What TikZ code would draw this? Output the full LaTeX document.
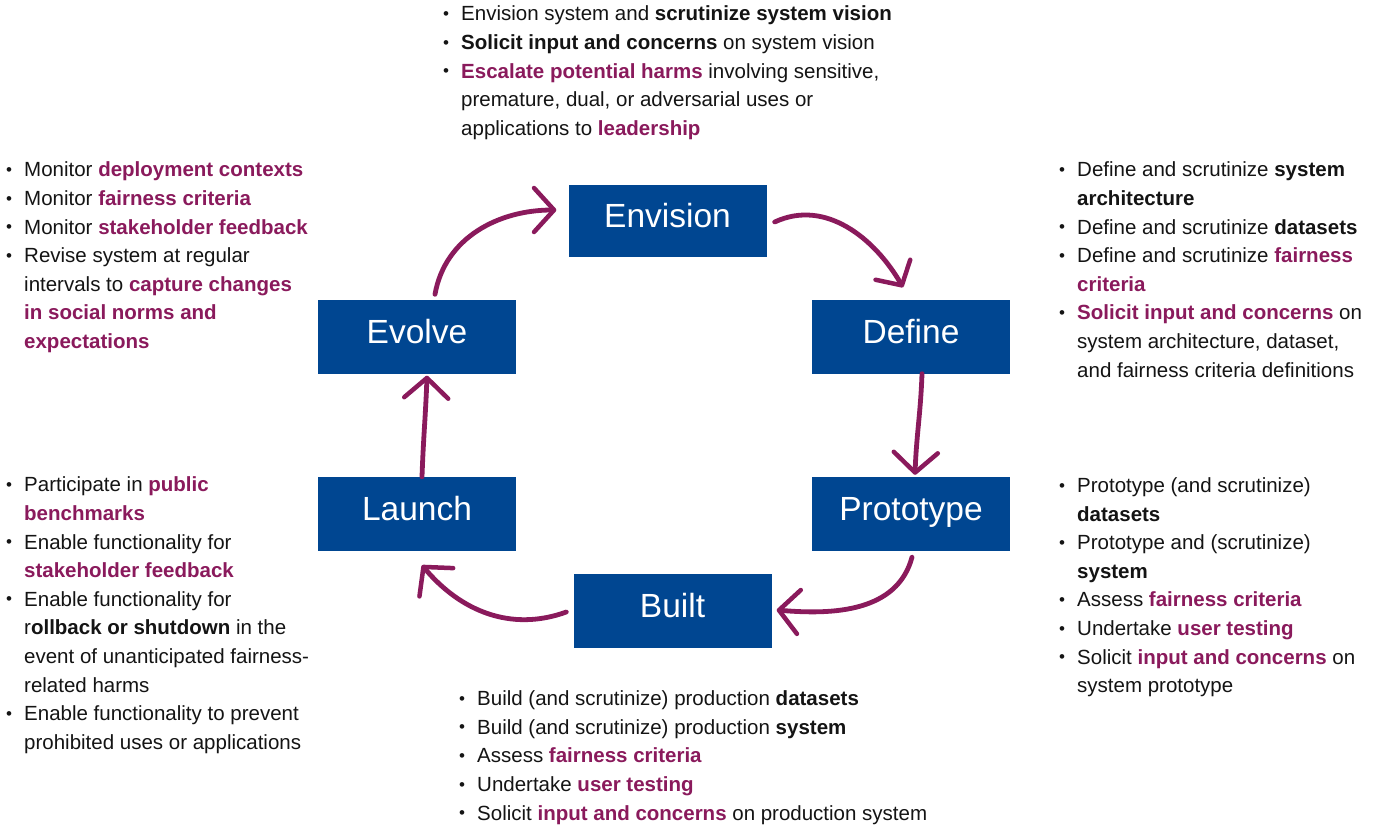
\documentclass[tikz,border=0pt]{standalone}
\usepackage{fontspec}
\setmainfont{Liberation Sans}
\usetikzlibrary{arrows.meta}
\definecolor{boxblue}{RGB}{0,70,145}
\definecolor{plum}{RGB}{138,26,92}
\definecolor{ink}{RGB}{20,20,20}
\newcommand\hlt[1]{\textbf{\textcolor{plum}{#1}}}
\newcommand\bl[1]{\textbf{#1}}
\newcommand\bitem{\makebox[18pt][l]{\hspace{0pt}\raisebox{1.5pt}{\fontsize{17}{17}\selectfont\textbullet}}}
\newcommand\cind{\hspace*{18pt}}
\newcommand\fst{\rule{0pt}{20pt}}
\begin{document}
\begin{tikzpicture}[x=1pt,y=-1pt,
  box/.style={fill=boxblue, text=white, minimum width=198pt, minimum height=74pt, inner sep=0pt,
    font=\fontsize{33.5}{40}\selectfont, text height=24pt, text depth=10.4pt},
  txt/.style={anchor=north west, align=left, inner sep=0pt, text=ink, font=\fontsize{20.5}{28.6}\selectfont},
  arr/.style={draw=plum, line width=4.8pt, line cap=round,
    -{Straight Barb[length=20pt,width=44pt,line width=4.5pt,round]}}]
\useasboundingbox[fill=white] (0,0) rectangle (1381,827);

% boxes
\node[box, minimum height=72pt] (env) at (667.5,221) {Envision};
\node[box] (evo) at (417,336.5) {Evolve};
\node[box] (def) at (911,336.5) {Define};
\node[box] (lau) at (417,514) {Launch};
\node[box] (pro) at (911,514) {Prototype};
\node[box] (blt) at (672.5,611) {Built};

% arrows
\draw[arr, -{Straight Barb[length=18pt,width=40pt,line width=4.5pt,round]}] ([xshift=8pt,yshift=-1pt]env.east) to[out=25,in=120] ([xshift=-8pt,yshift=12pt]def.north);
\draw[arr] ([xshift=11pt]def.south) to[out=-92,in=88] ([xshift=4pt,yshift=2pt]pro.north);
\draw[arr] ([xshift=1pt,yshift=-6pt]pro.south) to[out=-105,in=-5] ([xshift=5pt,yshift=1pt]blt.east);
\draw[arr] ([xshift=-7pt,yshift=-1pt]blt.west) to[out=200,in=-50] ([xshift=5pt,yshift=-14pt]lau.south);
\draw[arr] ([xshift=5pt]lau.north) to[out=88,in=-92] ([xshift=10pt,yshift=-2pt]evo.south);
\draw[arr] ([xshift=18pt,yshift=5pt]evo.north) to[out=80,in=180] ([xshift=-12pt,yshift=11pt]env.west);

% texts
\node[txt] (tTop) at (443,0.7) {\fst\bitem Envision system and \bl{scrutinize system vision}\\
\bitem\bl{Solicit input and concerns} on system vision\\
\bitem\hlt{Escalate potential harms} involving sensitive,\\
\cind premature, dual, or adversarial uses or\\
\cind applications to \hlt{leadership}};

\node[txt] (tEvo) at (6,156.7) {\fst\bitem Monitor \hlt{deployment contexts}\\
\bitem Monitor \hlt{fairness criteria}\\
\bitem Monitor \hlt{stakeholder feedback}\\
\bitem Revise system at regular\\
\cind intervals to \hlt{capture changes}\\
\cind\hlt{in social norms and}\\
\cind\hlt{expectations}};

\node[txt] (tDef) at (1059,156.7) {\fst\bitem Define and scrutinize \bl{system}\\
\cind\bl{architecture}\\
\bitem Define and scrutinize \bl{datasets}\\
\bitem Define and scrutinize \hlt{fairness}\\
\cind\hlt{criteria}\\
\bitem\hlt{Solicit input and concerns} on\\
\cind system architecture, dataset,\\
\cind and fairness criteria definitions};

\node[txt] (tLau) at (6,471.7) {\fst\bitem Participate in \hlt{public}\\
\cind\hlt{benchmarks}\\
\bitem Enable functionality for\\
\cind\hlt{stakeholder feedback}\\
\bitem Enable functionality for\\
\cind r\bl{ollback or shutdown} in the\\
\cind event of unanticipated fairness-\\
\cind related harms\\
\bitem Enable functionality to prevent\\
\cind prohibited uses or applications};

\node[txt] (tPro) at (1059,472.3) {\fst\bitem Prototype (and scrutinize)\\
\cind\bl{datasets}\\
\bitem Prototype and (scrutinize)\\
\cind\bl{system}\\
\bitem Assess \hlt{fairness criteria}\\
\bitem Undertake \hlt{user testing}\\
\bitem Solicit \hlt{input and concerns} on\\
\cind system prototype};

\node[txt] (tBlt) at (459,685.5) {\fst\bitem Build (and scrutinize) production \bl{datasets}\\
\bitem Build (and scrutinize) production \bl{system}\\
\bitem Assess \hlt{fairness criteria}\\
\bitem Undertake \hlt{user testing}\\
\bitem Solicit \hlt{input and concerns} on production system};
\end{tikzpicture}
\end{document}
